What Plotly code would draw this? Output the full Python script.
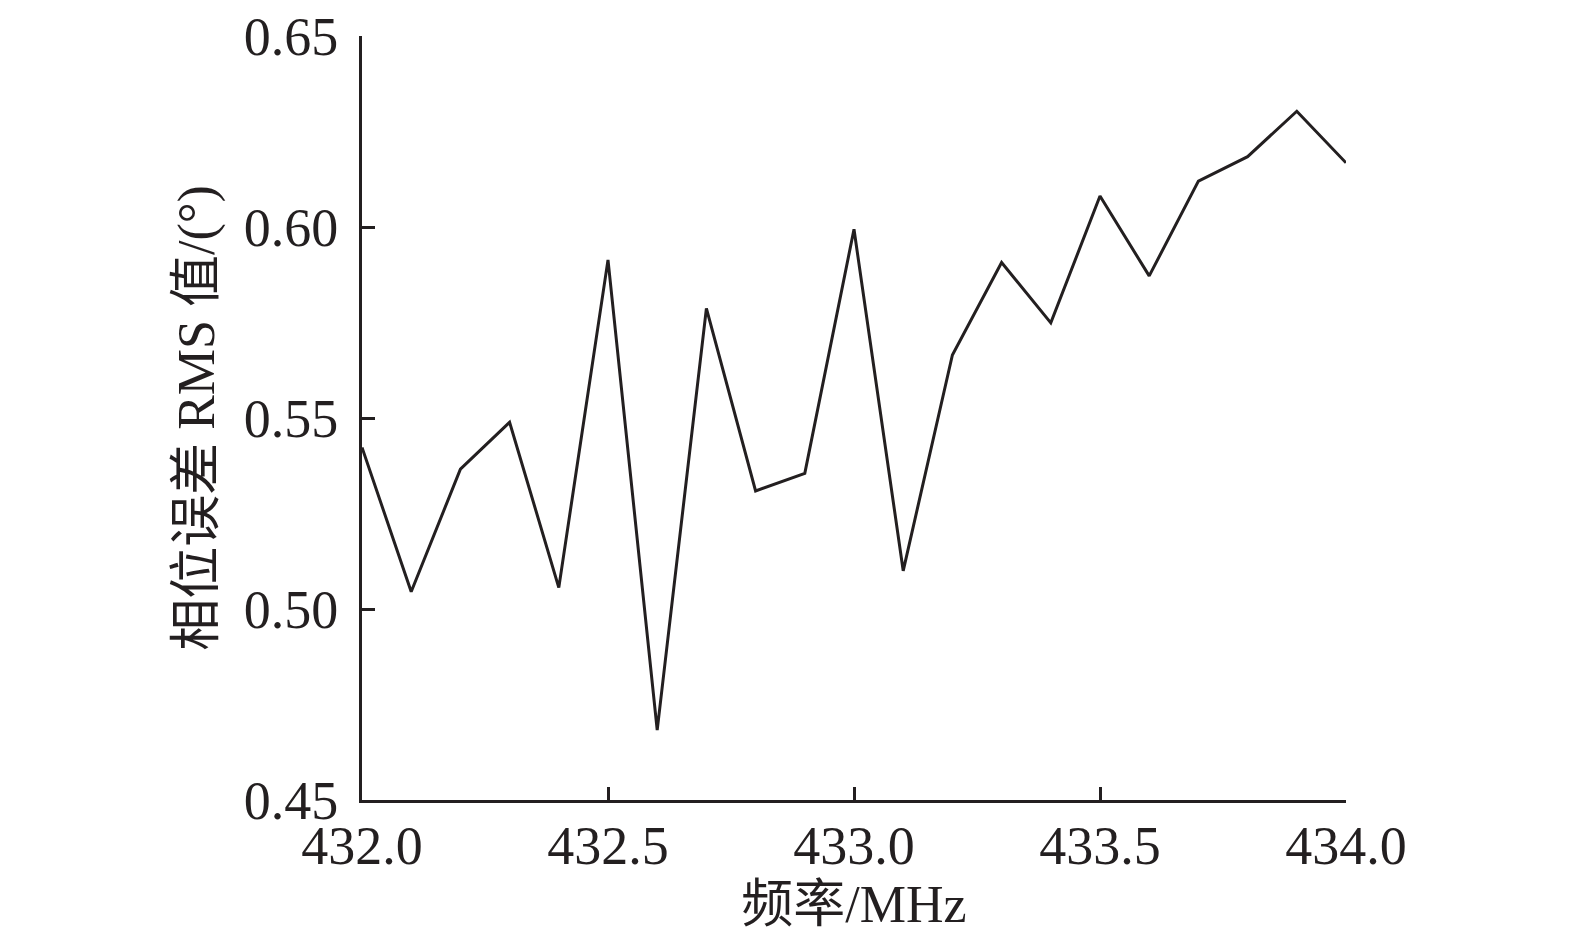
import plotly.graph_objects as go

freq = [432.0, 432.1, 432.2, 432.3, 432.4, 432.5, 432.6, 432.7, 432.8, 432.9, 433.0,
        433.1, 433.2, 433.3, 433.4, 433.5, 433.6, 433.7, 433.8, 433.9, 434.0]
rms = [0.5423, 0.5045, 0.5366, 0.5489, 0.5056, 0.5914, 0.4683, 0.5787, 0.5309, 0.5355, 0.5994,
       0.5100, 0.5665, 0.5907, 0.5749, 0.6081, 0.5872, 0.6120, 0.6184, 0.6303, 0.6168]
x_ticks = [432.0, 432.5, 433.0, 433.5, 434.0]
x_ticklabels = ["432.0", "432.5", "433.0", "433.5", "434.0"]
y_ticks = [0.45, 0.50, 0.55, 0.60, 0.65]
y_ticklabels = ["0.45", "0.50", "0.55", "0.60", "0.65"]

INK = "#231f20"
FONT = "Liberation Serif, Times New Roman, Noto Sans CJK SC, serif"

fig = go.Figure()
fig.add_trace(go.Scatter(x=freq, y=rms, mode="lines",
                         line=dict(color=INK, width=3), showlegend=False,
                         cliponaxis=False))

fig.update_layout(
    width=1575, height=951,
    margin=dict(l=354, r=237, t=28, b=159, autoexpand=False),
    paper_bgcolor="white", plot_bgcolor="white",
    font=dict(family=FONT, color=INK, size=52),
)
fig.update_xaxes(
    range=[432.0, 434.0], tickvals=x_ticks, ticktext=x_ticklabels,
    showgrid=False, zeroline=False, showline=True, linecolor=INK, linewidth=3,
    ticks="inside", ticklen=13, tickwidth=3, tickcolor=INK, automargin=True,
    tickfont=dict(family=FONT, size=54, color=INK), ticklabelstandoff=-4,
    ticklabeloverflow="allow",
    title=dict(text="频率/MHz", font=dict(family=FONT, size=52, color=INK), standoff=8),
)
fig.update_yaxes(
    range=[0.45, 0.65], tickvals=y_ticks, ticktext=y_ticklabels,
    showgrid=False, zeroline=False, showline=True, linecolor=INK, linewidth=3,
    ticks="inside", ticklen=13, tickwidth=3, tickcolor=INK, automargin=False,
    tickfont=dict(family=FONT, size=54, color=INK), ticklabelstandoff=10,
    ticklabeloverflow="allow",
    title=dict(text="相位误差 RMS 值/(°)", font=dict(family=FONT, size=52, color=INK), standoff=13),
)

fig.write_html("out.html")
